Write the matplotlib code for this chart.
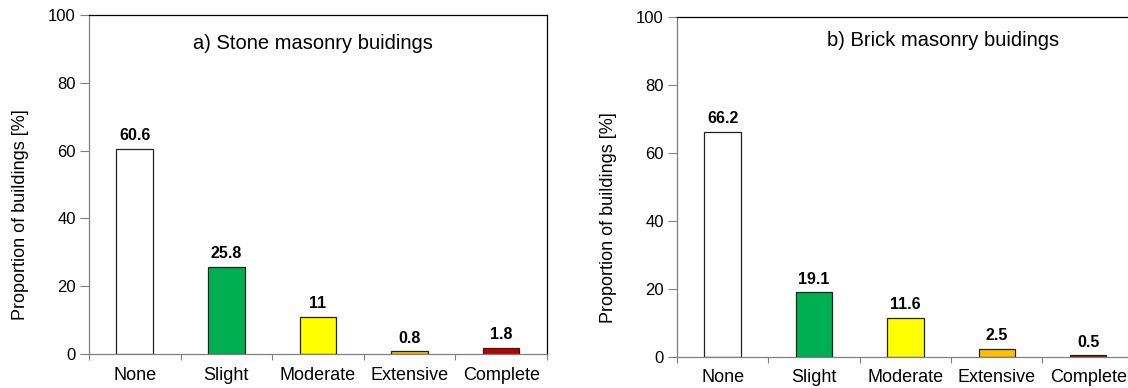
import matplotlib
matplotlib.use("Agg")
import matplotlib.pyplot as plt
import numpy as np

plt.rcParams['font.family'] = ['Liberation Sans', 'DejaVu Sans']

# damage states and share of buildings in each
states = ["None", "Slight", "Moderate", "Extensive", "Complete"]
stone = [60.6, 25.8, 11, 0.8, 1.8]
brick = [66.2, 19.1, 11.6, 2.5, 0.5]
stone_labels = ["60.6", "25.8", "11", "0.8", "1.8"]
brick_labels = ["66.2", "19.1", "11.6", "2.5", "0.5"]
colors = ["#FFFFFF", "#00B050", "#FFFF00", "#FFC000", "#C00000"]

fig = plt.figure(figsize=(11.28, 3.88), dpi=100)
ax1 = fig.add_axes([0.0789, 0.0876, 0.406, 0.874])
ax2 = fig.add_axes([0.6002, 0.0799, 0.405, 0.876])

grey = "#808080"


def damage_panel(ax, values, labels, title, tx, ty):
    x = np.arange(len(states))
    bars = ax.bar(x, values, width=0.4, color=colors, edgecolor="#222222", linewidth=0.9)
    for b, lab in zip(bars, labels):
        ax.annotate(lab, (b.get_x() + b.get_width() / 2, b.get_height()),
                    xytext=(0, 4), textcoords="offset points",
                    ha="center", va="bottom", fontsize=11.5, fontweight="bold")
    ax.set_xlim(-0.5, len(states) - 0.5)
    ax.set_ylim(0, 100)
    ax.set_yticks(range(0, 101, 20))
    ax.set_xticks(x)
    ax.set_xticklabels(states, fontsize=13)
    ax.set_xticks(np.arange(-0.5, len(states)), minor=True)
    ax.tick_params(axis="x", which="major", length=0, pad=9)
    ax.tick_params(axis="x", which="minor", length=4.5, color=grey, width=0.8)
    ax.tick_params(axis="y", length=6.5, color=grey, width=0.8, labelsize=12, pad=3)
    ax.spines["left"].set_color(grey)
    ax.spines["bottom"].set_color(grey)
    ax.spines["top"].set_color("black")
    ax.spines["right"].set_color("black")
    for s in ax.spines.values():
        s.set_linewidth(0.9)
    ax.set_ylabel("Proportion of buildings [%]", fontsize=13)
    ax.yaxis.set_label_coords(-0.132, 0.41)
    ax.text(tx, ty, title, transform=ax.transAxes, ha="center", va="center", fontsize=14.5)


damage_panel(ax1, stone, stone_labels, "a) Stone masonry buidings", 0.49, 0.917)
damage_panel(ax2, brick, brick_labels, "b) Brick masonry buidings", 0.583, 0.932)

fig.savefig("out.png", dpi=100)
